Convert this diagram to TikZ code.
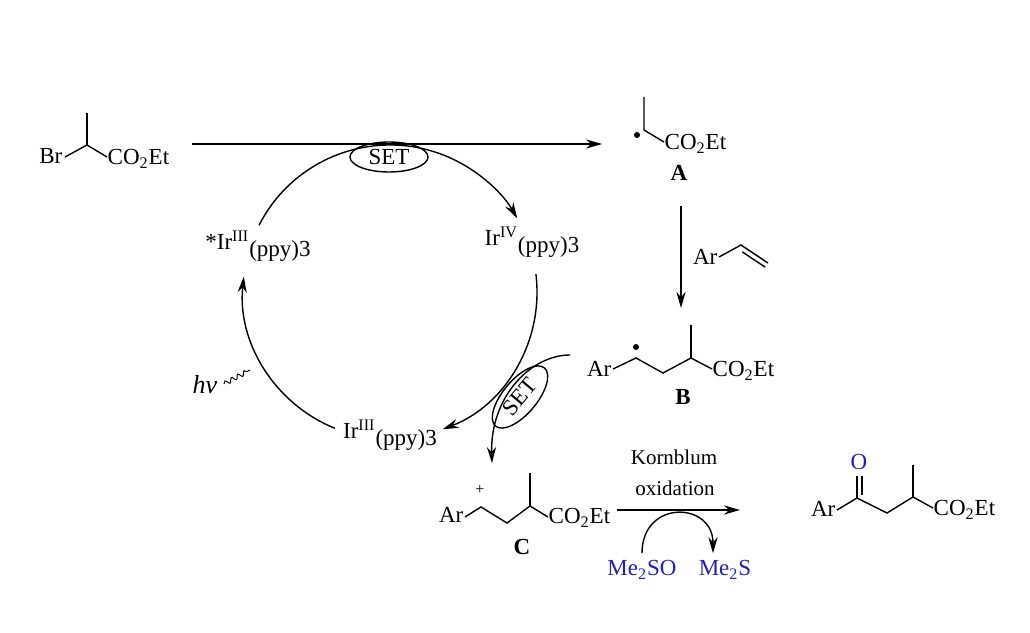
\documentclass[tikz,border=0pt]{standalone}
\usepackage{fontspec}
\setmainfont{Liberation Serif}
\usetikzlibrary{arrows.meta,shapes.geometric,decorations.pathmorphing}
\definecolor{reagent}{RGB}{35,35,175}
\newcommand{\ester}{CO\textsubscript{2}Et}
\newcommand{\irppy}[1]{Ir\textsuperscript{#1}\raisebox{-0.6ex}{(ppy)3}}
\begin{document}
\begin{tikzpicture}[x=0.5pt,y=0.5pt,line width=0.7pt,>={Stealth[length=8pt,width=4.6pt]},
  font=\fontsize{11.5}{13}\selectfont,
  txt/.style={inner sep=0pt},
  setmark/.style={draw,ellipse,inner sep=0pt}]
\useasboundingbox (0,0) rectangle (1030,633);
% ethyl 2-bromopropanoate
\node[txt,anchor=base east] (br) at (63,469) {Br};
\draw (65,476)--(87,488)--(107,476); \draw (87,488)--(87,520);
\node[txt,anchor=base west] (est0) at (107,468) {\ester};
\coordinate (s1) at (192,489); \coordinate (e1) at (602,489);
\draw[->] (s1)--(e1);
% radical A
\fill (637,498) circle (3);
\draw (644,536)--(644,503)--(664,491);
\node[txt,anchor=base west] (esta) at (664,483) {\ester};
\node (a) at (679,460) {\textbf{A}};
\coordinate (a1) at (681,427); \coordinate (b1) at (681,325);
\draw[->] (a1)--(b1);
% styrene
\node[txt,anchor=base east] (ar1) at (718,368) {Ar};
\draw (719,376)--(741,388)--(768,370);
\draw (742.3,381.1)--(765.2,365.8);
% radical B
\node[txt,anchor=base east] (ar2) at (612,256) {Ar};
\draw (613,264)--(636,275)--(663,260)--(691,275)--(712,264); \draw (691,275)--(691,308);
\fill (636,286) circle (3);
\node[txt,anchor=base west] (estb) at (712,256) {\ester};
\node (b) at (683,236) {\textbf{B}};
% catalytic cycle
\coordinate (cyc) at (390,341);
\node (irs) at (258,387) {*\irppy{III}};
\node (ir4) at (532,391) {\irppy{IV}};
\node (ir3) at (390,198) {\irppy{III}};
\draw[->] ([shift={(153:147)}]cyc) arc[start angle=153,end angle=30,radius=147];
\draw[->] ([shift={(7:147)}]cyc) arc[start angle=7,end angle=-69,radius=147];
\draw[->] ([shift={(248:147)}]cyc) arc[start angle=248,end angle=174,radius=147];
\node[setmark,minimum width=39pt,minimum height=15pt] (set1) at (389,476) {SET};
\node[setmark,rotate=50,minimum width=38pt,minimum height=17pt] (set2) at (520,236) {SET};
\node[font=\fontsize{13}{15}\selectfont] (hv) at (205,248) {\textit{hν}};
\draw[line width=0.5pt,decorate,decoration={snake,amplitude=1.1pt,segment length=3.6pt}] (224,249)--(250,263);
\coordinate (c1) at (570,278); \coordinate (c2) at (492,170);
\draw[->] (c1) .. controls (530,278) and (490,235) .. (c2);
% cation C
\node[txt,anchor=base east] (ar3) at (464,110) {Ar};
\draw (465,116)--(481,126)--(507,110)--(530,127)--(548,116); \draw (530,127)--(530,160);
\node (plus) at (480,143) {\footnotesize +};
\node[txt,anchor=base west] (estc) at (548,109) {\ester};
\node (c) at (522,86) {\textbf{C}};
% Kornblum oxidation
\coordinate (k1) at (617,123); \coordinate (k2) at (740,123);
\draw[->] (k1)--(k2);
\node[font=\fontsize{10.5}{12}\selectfont] (korn) at (674,176) {Kornblum};
\node[font=\fontsize{10.5}{12}\selectfont] (oxi) at (675,145) {oxidation};
\node[text=reagent] (dmso) at (642,63) {Me\textsubscript{2}SO};
\node[text=reagent] (dms) at (725,63) {Me\textsubscript{2}S};
\draw[->] (dmso.north) .. controls +(0,54) and +(0,52) .. ([xshift=-6pt]dms.north);
% ketoester
\node[txt,anchor=base east] (ar4) at (836,116) {Ar};
\draw (837,123)--(857,135)--(887,120)--(913,136)--(933,125); \draw (913,136)--(913,168);
\draw (857,135)--(857,157); \draw (862,138)--(862,157);
\node[text=reagent] (o) at (859,171) {O};
\node[txt,anchor=base west] (estd) at (933,117) {\ester};
\end{tikzpicture}
\end{document}
